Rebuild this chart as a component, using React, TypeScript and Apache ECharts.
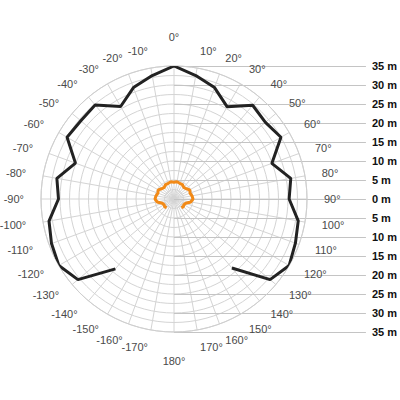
import React, { useEffect, useRef } from "react";
import * as echarts from "echarts";

const angles = [-140, -130, -120, -110, -100, -90, -80, -70, -60, -50, -40, -30, -20, -10, 0, 10, 20, 30, 40, 50, 60, 70, 80, 90, 100, 110, 120, 130, 140];
const outerValues = [24, 33, 35, 34.3, 33.4, 30.4, 31.3, 27.6, 32.5, 32, 32.3, 28.1, 31.2, 33, 35, 33, 31.2, 28, 32.2, 31.4, 32.5, 27.4, 31.2, 30.3, 33.2, 34, 35, 33, 23.7];
const innerValues = [3.0, 3.2, 3.0, 3.3, 4.5, 5.0, 4.8, 4.5, 4.8, 4.2, 4.0, 4.4, 4.4, 4.6, 4.4, 4.6, 4.4, 4.4, 4.0, 4.2, 4.8, 4.5, 4.8, 5.0, 4.5, 3.3, 3.0, 3.2, 3.0];
const angleTicks = [-170, -160, -150, -140, -130, -120, -110, -100, -90, -80, -70, -60, -50, -40, -30, -20, -10, 0, 10, 20, 30, 40, 50, 60, 70, 80, 90, 100, 110, 120, 130, 140, 150, 160, 170, 180];
const radiusMax = 35;
const ringStep = 2.5;
const labelStep = 5;
const angleStep = 10;

const POLAR_R = 133;

export default function App() {
  const ref = useRef<HTMLDivElement>(null);
  useEffect(() => {
    if (!ref.current) return;
    const chart = echarts.init(ref.current, undefined, { renderer: "svg" });
    const pxToValue = (px: number) => (px / POLAR_R) * radiusMax;
    chart.setOption({
      animation: false,
      backgroundColor: "#fff",
      textStyle: { fontFamily: "Liberation Sans, Arial, sans-serif" },
      grid: { left: 174, right: 33, top: 66, bottom: 68 },
      xAxis: { type: "value", show: false, min: 0, max: 1 },
      yAxis: {
        type: "value",
        position: "right",
        min: -radiusMax,
        max: radiusMax,
        interval: labelStep,
        axisLine: { show: false },
        axisTick: { show: false },
        splitLine: { show: true, lineStyle: { color: "#c4c4c4", width: 1 } },
        axisLabel: {
          formatter: (v: number) => Math.abs(v) + " m",
          color: "#111",
          fontWeight: "bold",
          fontSize: 11,
          margin: 6,
        },
      },
      polar: { center: [174, 199], radius: POLAR_R },
      angleAxis: {
        type: "value",
        min: -180,
        max: 180,
        interval: angleStep,
        startAngle: -90,
        clockwise: true,
        axisLine: { show: true, lineStyle: { color: "#cfcfcf", width: 1 } },
        axisTick: { show: false },
        splitLine: { show: true, lineStyle: { color: "#d4d4d4", width: 1 } },
        axisLabel: { show: false },
      },
      radiusAxis: {
        type: "value",
        min: 0,
        max: radiusMax,
        interval: ringStep,
        axisLine: { show: false },
        axisTick: { show: false },
        axisLabel: { show: false },
        splitLine: { show: true, lineStyle: { color: "#d4d4d4", width: 1 } },
      },
      series: [
        {
          type: "line",
          coordinateSystem: "polar",
          data: angles.map((a, i) => [outerValues[i], a]),
          symbol: "none",
          lineStyle: { color: "#222", width: 3 },
          z: 5,
        },
        {
          type: "line",
          coordinateSystem: "polar",
          data: angles.map((a, i) => [innerValues[i], a]),
          symbol: "none",
          lineStyle: { color: "#f28a17", width: 3 },
          z: 6,
        },
        {
          type: "custom",
          coordinateSystem: "polar",
          silent: true,
          clip: false,
          data: angleTicks.map((a) => [a % 180 === 0 ? pxToValue(162) : pxToValue(150), a]),
          renderItem: (params: any, api: any) => {
            const a = api.value(1) as number;
            const p = api.coord([api.value(0), a]);
            const align = a % 180 === 0 ? "center" : a > 0 ? "left" : "right";
            return {
              type: "text",
              x: p[0],
              y: p[1],
              style: {
                text: a + "°",
                align,
                verticalAlign: "middle",
                fill: "#4a4a4a",
                fontSize: 11,
                fontFamily: "Liberation Sans, Arial, sans-serif",
              },
            };
          },
          z: 7,
        },
      ],
    });
    return () => chart.dispose();
  }, []);
  return (
    <div
      ref={ref}
      style={{ position: "fixed", left: 0, top: 0, width: 400, height: 400 }}
    />
  );
}
